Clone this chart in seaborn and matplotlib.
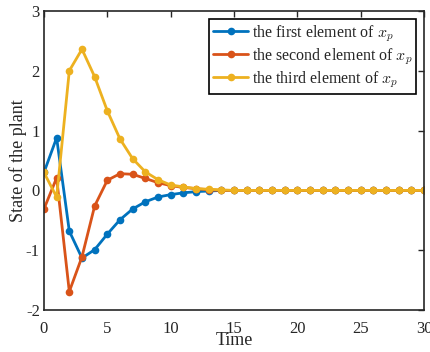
import numpy as np
import pandas as pd
import seaborn as sns
import matplotlib.pyplot as plt

time = list(range(31))
first = [0.30, 0.88, -0.68, -1.13, -0.99, -0.73, -0.49, -0.31, -0.19, -0.11, -0.07,
         -0.04, -0.02, -0.01] + [0.0] * 17
second = [-0.31, 0.21, -1.69, -1.11, -0.26, 0.17, 0.28, 0.27, 0.20, 0.13, 0.08,
          0.05, 0.03, 0.01] + [0.0] * 17
third = [0.30, -0.11, 2.00, 2.36, 1.90, 1.33, 0.86, 0.53, 0.31, 0.18, 0.09,
         0.06, 0.03, 0.02, 0.01] + [0.0] * 16

labels = [r'the first element of $x_p$',
          r'the second element of $x_p$',
          r'the third element of $x_p$']
colors = ['#0072BD', '#D95319', '#EDB120']

df = pd.concat([
    pd.DataFrame({'Time': time, 'value': vals, 'series': lab})
    for vals, lab in zip([first, second, third], labels)
])

sns.set_style('white')
plt.rcParams['font.family'] = ['Liberation Serif', 'DejaVu Serif']
plt.rcParams['mathtext.fontset'] = 'cm'
plt.rcParams['axes.unicode_minus'] = False

fig = plt.figure(figsize=(4.31, 3.52), dpi=100)
ax = fig.add_axes([0.102, 0.119, 0.882, 0.850])

sns.lineplot(data=df, x='Time', y='value', hue='series', palette=colors,
             marker='o', markersize=5.5, markeredgewidth=0, linewidth=2.0, ax=ax)

ax.set_xlim(0, 30)
ax.set_ylim(-2, 3)
ax.set_xticks(range(0, 31, 5))
ax.set_yticks(range(-2, 4))
ax.tick_params(direction='in', top=True, right=True, length=4, width=1,
               labelsize=12, pad=3, colors='#262626')
ax.tick_params(axis='x', pad=8)
for sp in ax.spines.values():
    sp.set_linewidth(1.2)
    sp.set_color('#262626')
ax.set_xlabel('Time', fontsize=13, labelpad=-4)
ax.set_ylabel('State of the plant', fontsize=13, labelpad=-1)

leg = ax.legend(loc='upper right', fontsize=11.5, fancybox=False, framealpha=1,
                edgecolor='black', handlelength=2.2, handletextpad=0.2,
                borderpad=0.25, labelspacing=0.15, borderaxespad=0.5)
leg.get_frame().set_linewidth(1.2)

fig.savefig('out.png', dpi=100)
